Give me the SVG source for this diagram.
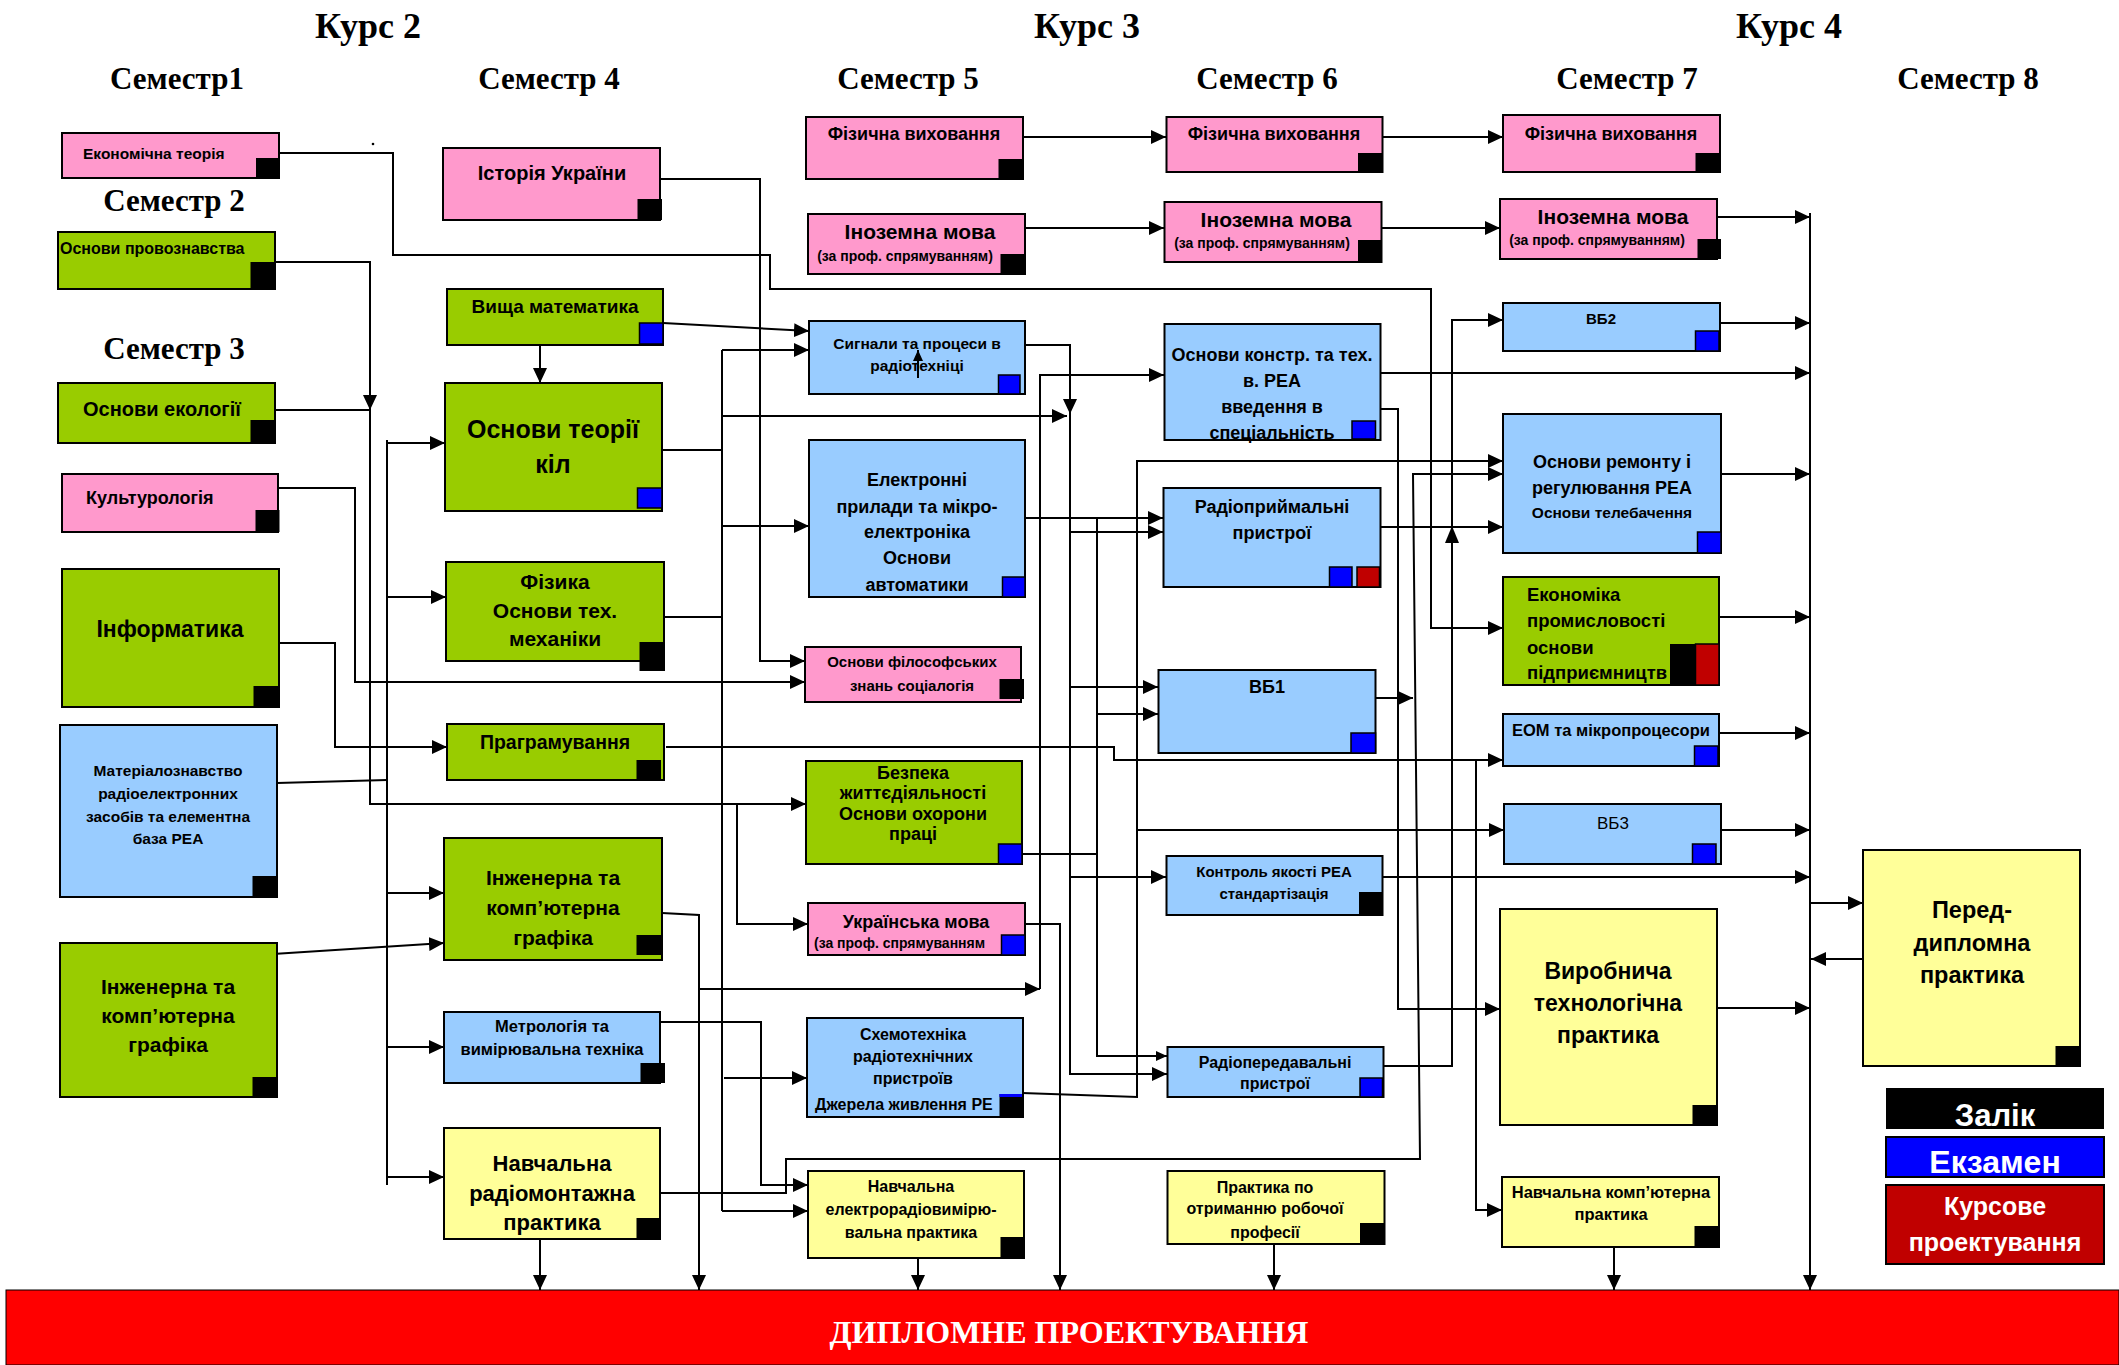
<svg xmlns="http://www.w3.org/2000/svg" width="2119" height="1365" viewBox="0 0 2119 1365">
<defs>
<marker id="ah" markerUnits="userSpaceOnUse" markerWidth="16" markerHeight="16" viewBox="0 0 16 16" refX="15" refY="8" orient="auto"><path d="M0,1 L15,8 L0,15 z" fill="#000"/></marker>
<marker id="as" markerUnits="userSpaceOnUse" markerWidth="12" markerHeight="12" viewBox="0 0 12 12" refX="11" refY="6" orient="auto"><path d="M0,1 L11,6 L0,11 z" fill="#000"/></marker>
</defs>
<style>
.bx{stroke:#000;stroke-width:2}
.pk{fill:#FF99CC}.gr{fill:#99CC00}.lb{fill:#99CCFF}.yl{fill:#FFFF99}
.k{fill:#000}.e{fill:#0000FF;stroke:#000;stroke-width:1.5}.r{fill:#C00000;stroke:#000;stroke-width:1.5}
text{font-family:"Liberation Sans",Arial,sans-serif;font-weight:bold;fill:#000}
.m{text-anchor:middle}
.h{font-family:"Liberation Serif","Times New Roman",serif;font-weight:bold}
.w{fill:#fff}
.c path{fill:none;stroke:#000;stroke-width:2}
.c path.a{marker-end:url(#ah)}
.c path.s{marker-end:url(#as)}
</style>
<rect width="2119" height="1365" fill="#fff"/>

<g id="headings">
<text class="h m" x="368" y="38" style="font-size:36px">Курс 2</text>
<text class="h m" x="1087" y="38" style="font-size:36px">Курс 3</text>
<text class="h m" x="1789" y="38" style="font-size:36px">Курс 4</text>
<text class="h m" x="177" y="89" style="font-size:31px">Семестр1</text>
<text class="h m" x="174" y="211" style="font-size:31px">Семестр 2</text>
<text class="h m" x="174" y="359" style="font-size:31px">Семестр 3</text>
<text class="h m" x="549" y="89" style="font-size:31px">Семестр 4</text>
<text class="h m" x="908" y="89" style="font-size:31px">Семестр 5</text>
<text class="h m" x="1267" y="89" style="font-size:31px">Семестр 6</text>
<text class="h m" x="1627" y="89" style="font-size:31px">Семестр 7</text>
<text class="h m" x="1968" y="89" style="font-size:31px">Семестр 8</text>
<circle cx="373" cy="144" r="1.3" fill="#000"/>
</g>

<g id="connectors" class="c">
<path class="a" d="M279,153 H393 V255 H770 V289 H1431 V628 H1503"/>
<path class="a" d="M275,262 H370 V410"/>
<path d="M275,410 H370"/>
<path class="a" d="M370,410 V804 H806"/>
<path class="a" d="M737,804 V924 H808"/>
<path class="a" d="M278,488 H355 V682 H805"/>
<path class="a" d="M279,643 H335 V747 H447"/>
<path d="M277,783 L387,780"/>
<path d="M387,440 V1185"/>
<path class="a" d="M387,443 H445"/>
<path class="a" d="M387,597 H446"/>
<path class="a" d="M387,893 H444"/>
<path class="a" d="M387,1047 H444"/>
<path class="a" d="M387,1177 H444"/>
<path class="a" d="M273,954 L444,943"/>
<path class="a" d="M660,179 H760 V661 H805"/>
<path class="a" d="M663,323 L809,331"/>
<path class="a" d="M540,345 V383"/>
<path d="M662,450 H722"/>
<path d="M664,617 H722"/>
<path d="M722,350 V1211"/>
<path class="a" d="M722,350 H809"/>
<path class="a" d="M722,416 H1067"/>
<path class="a" d="M722,526 H809"/>
<path class="a" d="M724,1078 H807"/>
<path class="a" d="M722,1211 H808"/>
<path class="a" d="M1025,345 H1070 V414"/>
<path class="a" d="M1070,412 V1074 H1167"/>
<path class="a" d="M1070,532 H1163"/>
<path class="a" d="M1070,687 H1158"/>
<path class="a" d="M1070,877 H1166"/>
<path class="a" d="M1025,518 H1163"/>
<path class="s" d="M1097,518 V1056 H1167"/>
<path class="a" d="M1097,714 H1158"/>
<path d="M1022,854 H1097"/>
<path class="a" d="M1380,527 H1503"/>
<path class="a" d="M1383,1066 H1452 V320 H1503"/>
<path class="a" d="M1380,373 H1810"/>
<path class="a" d="M1380,409 H1398 V1009 H1500"/>
<path class="a" d="M699,989 H1040"/>
<path class="a" d="M1040,989 V375 H1164"/>
<path class="a" d="M1025,924 H1060 V1290"/>
<path class="a" d="M662,913 L699,915 V1290"/>
<path class="a" d="M666,747 H1114 V760 H1503"/>
<path class="a" d="M1476,760 V1210 H1502"/>
<path class="a" d="M660,1022 H761 V1185 H808"/>
<path class="a" d="M660,1193 H786 V1159 H1420 L1413,474 H1503"/>
<path class="a" d="M540,1239 V1290"/>
<path class="a" d="M1375,698 H1413"/>
<path class="a" d="M1022,1093 L1137,1097 V461 H1503"/>
<path class="a" d="M1137,830 H1504"/>
<path class="a" d="M1382,877 H1810"/>
<path class="a" d="M918,1258 V1290"/>
<path class="a" d="M1274,1244 V1290"/>
<path class="a" d="M1614,1247 V1290"/>
<path class="a" d="M1023,137 H1166"/>
<path class="a" d="M1382,137 H1503"/>
<path class="a" d="M1025,228 H1164"/>
<path class="a" d="M1381,228 H1500"/>
<path class="a" d="M1810,213 V1290"/>
<path class="a" d="M1717,217 H1810"/>
<path class="a" d="M1720,323 H1810"/>
<path class="a" d="M1721,474 H1810"/>
<path class="a" d="M1719,617 H1810"/>
<path class="a" d="M1719,733 H1810"/>
<path class="a" d="M1721,830 H1810"/>
<path class="a" d="M1717,1008 H1810"/>
<path class="a" d="M1810,903 H1863"/>
<path class="a" d="M1863,959 H1811"/>
<path d="M1445,543 L1452,526 L1459,543 z" style="fill:#000;stroke:none"/>
</g>

<g id="n-ekon-teoriya"><rect class="bx pk" x="62" y="133" width="217" height="45"/><rect class="k" x="256" y="158" width="24" height="20"/><text x="83" y="159" style="font-size:15.5px">Економічна теорія</text></g>
<g id="n-provoznavstvo"><rect class="bx gr" x="58" y="232" width="217" height="57"/><rect class="k" x="250.5" y="262" width="24.5" height="27"/><text x="60" y="254" style="font-size:16px">Основи провознавства</text></g>
<g id="n-ekologiya"><rect class="bx gr" x="58" y="383" width="217" height="60"/><rect class="k" x="250.5" y="420" width="24.5" height="22"/><text x="83" y="416" style="font-size:20px">Основи екології</text></g>
<g id="n-kulturologiya"><rect class="bx pk" x="62" y="474" width="216" height="58"/><rect class="k" x="255.5" y="510" width="24" height="22"/><text x="86" y="504" style="font-size:18px">Культурологія</text></g>
<g id="n-informatyka"><rect class="bx gr" x="62" y="569" width="217" height="138"/><rect class="k" x="253.5" y="686" width="25.5" height="21"/><text class="m" x="170" y="637" style="font-size:23px">Інформатика</text></g>
<g id="n-materialoznavstvo"><rect class="bx lb" x="60" y="725" width="217" height="172"/><rect class="k" x="252.5" y="876" width="24.5" height="21"/><text class="m" style="font-size:15.5px"><tspan x="168" y="776">Матеріалознавство</tspan><tspan x="168" y="799">радіоелектронних</tspan><tspan x="168" y="822">засобів та елементна</tspan><tspan x="168" y="844">база РЕА</tspan></text></g>
<g id="n-grafika-s3"><rect class="bx gr" x="60" y="943" width="217" height="154"/><rect class="k" x="252.5" y="1077" width="24.5" height="20"/><text class="m" style="font-size:21px"><tspan x="168" y="994">Інженерна та</tspan><tspan x="168" y="1023">комп’ютерна</tspan><tspan x="168" y="1052">графіка</tspan></text></g>

<g id="n-istoriya"><rect class="bx pk" x="443" y="148" width="217" height="72"/><rect class="k" x="637.5" y="199" width="24.5" height="21"/><text class="m" x="552" y="180" style="font-size:20px">Історія України</text></g>
<g id="n-vyshcha-matematyka"><rect class="bx gr" x="447" y="289" width="216" height="56"/><rect class="e" x="639.5" y="323" width="23.5" height="21"/><text class="m" x="555" y="313" style="font-size:19px">Вища математика</text></g>
<g id="n-teoriya-kil"><rect class="bx gr" x="445" y="383" width="217" height="128"/><rect class="e" x="637.5" y="488" width="24.5" height="20"/><text class="m" style="font-size:25px"><tspan x="553" y="438">Основи теорії</tspan><tspan x="553" y="473">кіл</tspan></text></g>
<g id="n-fizyka"><rect class="bx gr" x="446" y="562" width="218" height="99"/><rect class="k" x="639.5" y="642" width="25.5" height="29"/><text class="m" style="font-size:21px"><tspan x="555" y="589">Фізика</tspan><tspan x="555" y="618">Основи тех.</tspan><tspan x="555" y="646">механіки</tspan></text></g>
<g id="n-programuvannya"><rect class="bx gr" x="447" y="724" width="217" height="56"/><rect class="k" x="636.5" y="760" width="24.5" height="20"/><text class="m" x="555" y="749" style="font-size:19.5px">Праграмування</text></g>
<g id="n-grafika-s4"><rect class="bx gr" x="444" y="838" width="218" height="122"/><rect class="k" x="636.5" y="935" width="24.5" height="20"/><text class="m" style="font-size:21px"><tspan x="553" y="885">Інженерна та</tspan><tspan x="553" y="915">комп’ютерна</tspan><tspan x="553" y="945">графіка</tspan></text></g>
<g id="n-metrolohiya"><rect class="bx lb" x="444" y="1012" width="216" height="71"/><rect class="k" x="640.5" y="1063" width="24.5" height="20"/><text class="m" style="font-size:16.5px"><tspan x="552" y="1032">Метрологія та</tspan><tspan x="552" y="1055">вимірювальна техніка</tspan></text></g>
<g id="n-radiomontazhna"><rect class="bx yl" x="444" y="1128" width="216" height="111"/><rect class="k" x="636.5" y="1218" width="24.5" height="21"/><text class="m" style="font-size:22px"><tspan x="552" y="1171">Навчальна</tspan><tspan x="552" y="1201">радіомонтажна</tspan><tspan x="552" y="1230">практика</tspan></text></g>

<g id="n-fizvykh-s5"><rect class="bx pk" x="806" y="117" width="217" height="62"/><rect class="k" x="998.5" y="159" width="24.5" height="20"/><text class="m" x="914" y="140" style="font-size:18px">Фізична виховання</text></g>
<g id="n-inozemna-s5"><rect class="bx pk" x="808" y="214" width="217" height="60"/><rect class="k" x="1000.5" y="254" width="24.5" height="20"/><text class="m" x="920" y="239" style="font-size:21px">Іноземна мова</text><text class="m" x="905" y="261" style="font-size:14px">(за проф. спрямуванням)</text></g>
<g id="n-syhnaly"><rect class="bx lb" x="809" y="321" width="216" height="73"/><rect class="e" x="998.5" y="375" width="21.5" height="19"/><text class="m" style="font-size:15.5px"><tspan x="917" y="349">Сигнали та процеси в</tspan><tspan x="917" y="371">радіотехніці</tspan></text><path d="M918,378 V350" stroke="#000" stroke-width="2" marker-end="url(#as)"/></g>
<g id="n-elektronni"><rect class="bx lb" x="809" y="440" width="216" height="157"/><rect class="e" x="1002.5" y="577" width="22.5" height="20"/><text class="m" style="font-size:18px"><tspan x="917" y="486">Електронні</tspan><tspan x="917" y="513">прилади та мікро-</tspan><tspan x="917" y="538">електроніка</tspan><tspan x="917" y="564">Основи</tspan><tspan x="917" y="591">автоматики</tspan></text></g>
<g id="n-filosofiya"><rect class="bx pk" x="805" y="647" width="216" height="55"/><rect class="k" x="999.5" y="679" width="24.5" height="20"/><text class="m" style="font-size:15px"><tspan x="912" y="667">Основи  філософських</tspan><tspan x="912" y="691">знань соціалогія</tspan></text></g>
<g id="n-bezpeka"><rect class="bx gr" x="806" y="761" width="216" height="103"/><rect class="e" x="998.5" y="844" width="23.5" height="20"/><text class="m" style="font-size:18px"><tspan x="913" y="779">Безпека</tspan><tspan x="913" y="799">життєдіяльності</tspan><tspan x="913" y="820">Основи охорони</tspan><tspan x="913" y="840">праці</tspan></text></g>
<g id="n-ukrainska"><rect class="bx pk" x="808" y="903" width="217" height="52"/><rect class="e" x="1001.5" y="935" width="23.5" height="20"/><text class="m" x="916" y="928" style="font-size:18px">Українська мова</text><text x="814" y="948" style="font-size:14px">(за проф. спрямуванням</text></g>
<g id="n-skhemotekhnika"><rect class="bx lb" x="807" y="1018" width="216" height="99"/><text class="m" style="font-size:16px"><tspan x="913" y="1040">Схемотехніка</tspan><tspan x="913" y="1062">радіотехнічних</tspan><tspan x="913" y="1084">пристроїв</tspan></text><text x="815" y="1110" style="font-size:16px">Джерела живлення РЕ</text><rect class="k" x="999.5" y="1094" width="22.5" height="24"/><rect x="999.5" y="1094" width="22.5" height="3" fill="#0000FF"/></g>
<g id="n-elektrovymiryuvalna"><rect class="bx yl" x="808" y="1171" width="216" height="87"/><rect class="k" x="1000.5" y="1237" width="23.5" height="21"/><text class="m" style="font-size:16px"><tspan x="911" y="1192">Навчальна</tspan><tspan x="911" y="1215">електрорадіовимірю-</tspan><tspan x="911" y="1238">вальна практика</tspan></text></g>

<g id="n-fizvykh-s6"><rect class="bx pk" x="1166.5" y="117" width="216" height="55"/><rect class="k" x="1358" y="153" width="24.5" height="19"/><text class="m" x="1274" y="140" style="font-size:18px">Фізична виховання</text></g>
<g id="n-inozemna-s6"><rect class="bx pk" x="1164.5" y="202" width="217" height="60"/><rect class="k" x="1358" y="240" width="23.5" height="22"/><text class="m" x="1276" y="227" style="font-size:21px">Іноземна мова</text><text class="m" x="1262" y="248" style="font-size:14px">(за проф. спрямуванням)</text></g>
<g id="n-osnovy-konstr"><rect class="bx lb" x="1164.5" y="324" width="216" height="116"/><rect class="e" x="1352" y="421" width="23.5" height="18"/><text class="m" style="font-size:18px"><tspan x="1272" y="361">Основи констр. та тех.</tspan><tspan x="1272" y="387">в. РЕА</tspan><tspan x="1272" y="413">введення в</tspan><tspan x="1272" y="439">спеціальність</tspan></text></g>
<g id="n-radiopryimalni"><rect class="bx lb" x="1163.5" y="488" width="217" height="99"/><rect class="e" x="1329.5" y="567" width="22.5" height="20"/><rect class="r" x="1357" y="567" width="22.5" height="20"/><text class="m" style="font-size:18px"><tspan x="1272" y="513">Радіоприймальні</tspan><tspan x="1272" y="539">пристрої</tspan></text></g>
<g id="n-vb1"><rect class="bx lb" x="1158.5" y="670" width="217" height="83"/><rect class="e" x="1351" y="733" width="24.5" height="20"/><text class="m" x="1267" y="693" style="font-size:18px">ВБ1</text></g>
<g id="n-kontrol"><rect class="bx lb" x="1166.5" y="856" width="216" height="59"/><rect class="k" x="1359" y="892" width="23.5" height="23"/><text class="m" style="font-size:15px"><tspan x="1274" y="877">Контроль якості РЕА</tspan><tspan x="1274" y="899">стандартізація</tspan></text></g>
<g id="n-radioperedavalni"><rect class="bx lb" x="1167.5" y="1047" width="216" height="50"/><rect class="e" x="1360" y="1078" width="22.5" height="19"/><text class="m" style="font-size:16px"><tspan x="1275" y="1068">Радіопередавальні</tspan><tspan x="1275" y="1089">пристрої</tspan></text></g>
<g id="n-robocha-profesiya"><rect class="bx yl" x="1167.5" y="1171" width="217" height="73"/><rect class="k" x="1360" y="1223" width="24.5" height="21"/><text class="m" style="font-size:16px"><tspan x="1265" y="1193">Практика по</tspan><tspan x="1265" y="1214">отриманню робочої</tspan><tspan x="1265" y="1238">професії</tspan></text></g>

<g id="n-fizvykh-s7"><rect class="bx pk" x="1503" y="115" width="217" height="57"/><rect class="k" x="1695.5" y="153" width="24.5" height="19"/><text class="m" x="1611" y="140" style="font-size:18px">Фізична виховання</text></g>
<g id="n-inozemna-s7"><rect class="bx pk" x="1500" y="199" width="217" height="60"/><rect class="k" x="1697.5" y="239" width="23.5" height="20"/><text class="m" x="1613" y="224" style="font-size:21px">Іноземна мова</text><text class="m" x="1597" y="245" style="font-size:14px">(за проф. спрямуванням)</text></g>
<g id="n-vb2"><rect class="bx lb" x="1503" y="303" width="217" height="48"/><rect class="e" x="1695.5" y="331" width="23.5" height="20"/><text class="m" x="1601" y="324" style="font-size:15px">ВБ2</text></g>
<g id="n-remont"><rect class="bx lb" x="1503" y="414" width="218" height="139"/><rect class="e" x="1697.5" y="532" width="23.5" height="21"/><text class="m" style="font-size:18px"><tspan x="1612" y="468">Основи ремонту і</tspan><tspan x="1612" y="494">регулювання РЕА</tspan></text><text class="m" x="1612" y="518" style="font-size:15.5px">Основи телебачення</text></g>
<g id="n-ekonomika"><rect class="bx gr" x="1503" y="577" width="216" height="108"/><text style="font-size:18.5px"><tspan x="1527" y="601">Економіка</tspan><tspan x="1527" y="627">промисловості</tspan><tspan x="1527" y="654">основи</tspan><tspan x="1527" y="679">підприємництв</tspan></text><rect class="k" x="1670" y="644" width="25.5" height="41"/><rect class="r" x="1695.5" y="644" width="23.5" height="41"/></g>
<g id="n-eom"><rect class="bx lb" x="1503" y="714" width="216" height="52"/><rect class="e" x="1694.5" y="746" width="23.5" height="20"/><text x="1512" y="736" style="font-size:16.5px">ЕОМ та мікропроцесори</text></g>
<g id="n-vb3"><rect class="bx lb" x="1504" y="804" width="217" height="60"/><rect class="e" x="1692.5" y="844" width="23.5" height="20"/><text class="m" x="1613" y="829" style="font-size:17px;font-weight:normal">ВБ3</text></g>
<g id="n-vyrobnycha"><rect class="bx yl" x="1500" y="909" width="217" height="216"/><rect class="k" x="1692.5" y="1105" width="24.5" height="20"/><text class="m" style="font-size:23px"><tspan x="1608" y="979">Виробнича</tspan><tspan x="1608" y="1011">технологічна</tspan><tspan x="1608" y="1043">практика</tspan></text></g>
<g id="n-kompyuterna-praktyka"><rect class="bx yl" x="1502" y="1177" width="217" height="70"/><rect class="k" x="1694.5" y="1226" width="24.5" height="21"/><text class="m" style="font-size:16.5px"><tspan x="1611" y="1198">Навчальна комп’ютерна</tspan><tspan x="1611" y="1220">практика</tspan></text></g>
<g id="n-peddyplomna"><rect class="bx yl" x="1863" y="850" width="217" height="216"/><rect class="k" x="2055.5" y="1046" width="24.5" height="20"/><text class="m" style="font-size:23.5px"><tspan x="1972" y="918">Перед-</tspan><tspan x="1972" y="951">дипломна</tspan><tspan x="1972" y="983">практика</tspan></text></g>

<g id="legend">
<rect x="1886" y="1088" width="218" height="41" fill="#000"/>
<text class="m w" x="1995" y="1126" style="font-size:31px">Залік</text>
<rect x="1886" y="1137" width="218" height="40" fill="#0000FF" stroke="#000" stroke-width="2"/>
<text class="m w" x="1995" y="1173" style="font-size:32px">Екзамен</text>
<rect x="1886" y="1185" width="218" height="79" fill="#C00000" stroke="#000" stroke-width="2"/>
<text class="m w" style="font-size:25px"><tspan x="1995" y="1215">Курсове</tspan><tspan x="1995" y="1251">проектування</tspan></text>
</g>

<g id="n-dyplomne">
<rect x="6" y="1290" width="2113" height="75" fill="#FF0000" stroke="#000" stroke-width="1"/>
<text class="h m w" x="1069" y="1343" style="font-size:32px">ДИПЛОМНЕ ПРОЕКТУВАННЯ</text>
</g>
</svg>
